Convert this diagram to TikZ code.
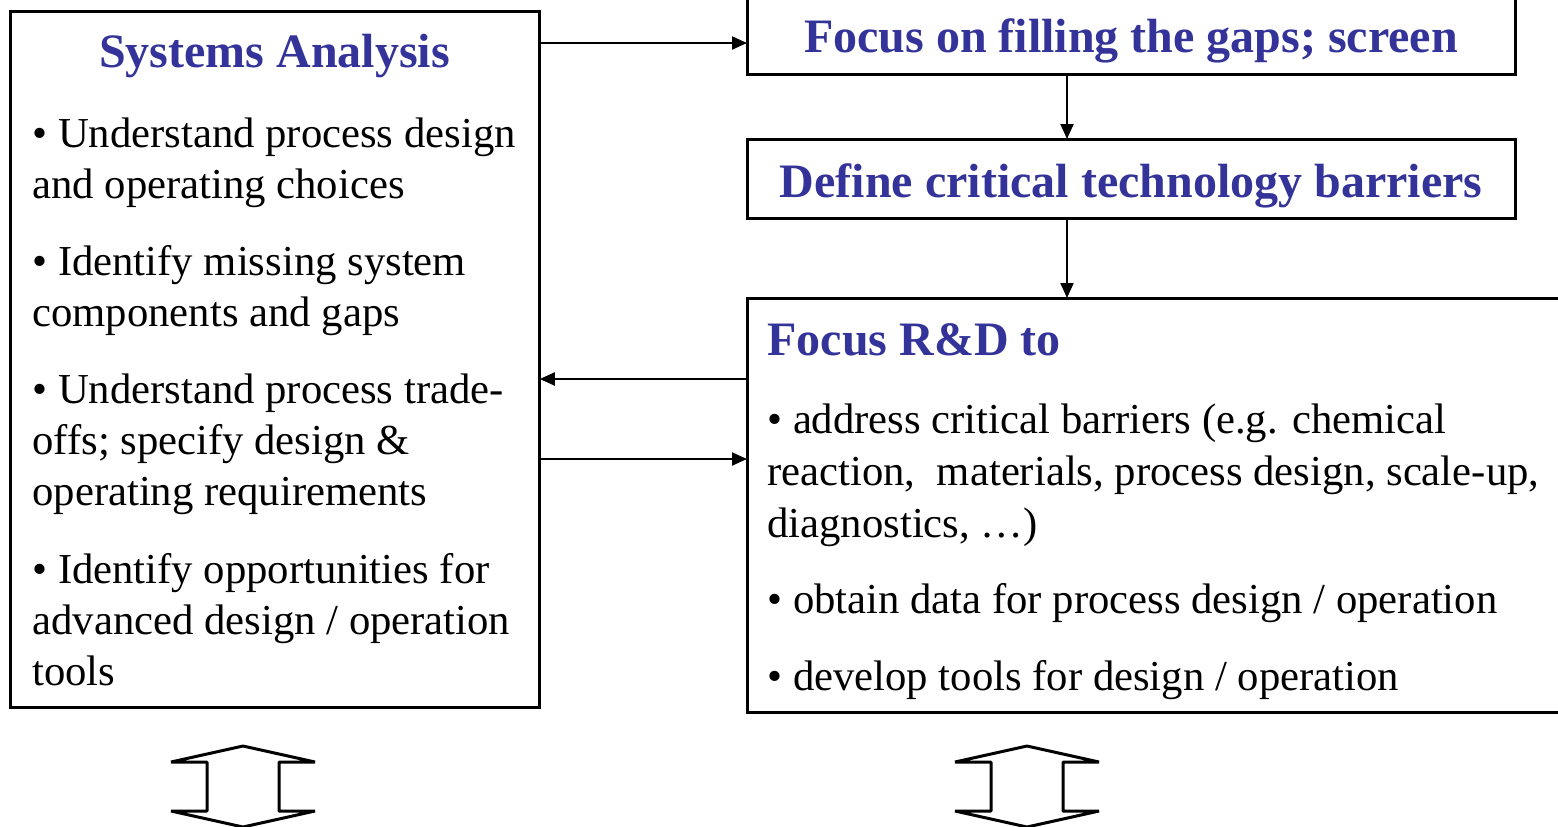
\documentclass[tikz,border=0pt]{standalone}
\usepackage{fontspec}
\setmainfont{Liberation Serif}
\usetikzlibrary{arrows.meta}
\definecolor{headblue}{HTML}{333399}
\begin{document}
\begin{tikzpicture}[x=0.5pt,y=-0.5pt,
  box/.style={draw,line width=1.5pt},
  link/.style={line width=1pt,-{Triangle[length=7.5pt,width=6.5pt]}},
  head/.style={font=\fontsize{24}{28}\selectfont\bfseries,text=headblue,inner sep=0pt},
  txt/.style={font=\fontsize{21.35}{25}\selectfont,inner sep=0pt,anchor=base west},
  dblarrow/.style={draw,line width=1.5pt,line join=bevel,fill=white}]
\useasboundingbox (0,0) rectangle (1558,826);

% boxes
\draw[box] (10,11) rectangle (539,707);
\node[inner sep=0pt,minimum width=264.5pt,minimum height=348pt,anchor=north west] (sa) at (10,11) {};
\draw[box] (747,-30) rectangle (1515,74);
\node[inner sep=0pt,minimum width=384pt,minimum height=52pt,anchor=south west] (fg) at (747,74) {};
\draw[box] (747,139) rectangle (1515,218);
\node[inner sep=0pt,minimum width=384pt,minimum height=39.5pt,anchor=north west] (dc) at (747,139) {};
\draw[box] (747,298) rectangle (1600,712);
\node[inner sep=0pt,minimum width=426.5pt,minimum height=207pt,anchor=north west] (rd) at (747,298) {};

% headings
\node[head,anchor=base] (t1) at (274.5,67) {Systems Analysis};
\node[head,anchor=base] (t2) at (1131,52) {Focus on filling the gaps; screen};
\node[head,anchor=base] (t3) at (1131,197) {Define critical technology barriers};
\node[head,anchor=base west] (t4) at (767,355) {Focus R\&D to};

% left column text
\node[txt] (a1) at (32,147) {• Understand process design};
\node[txt] (a2) at (32,198) {and operating choices};
\node[txt] (b1) at (32,275) {• Identify missing system};
\node[txt] (b2) at (32,326) {components and gaps};
\node[txt] (c1) at (32,403) {• Understand process trade-};
\node[txt] (c2) at (32,454) {offs; specify design \&};
\node[txt] (c3) at (32,505) {operating requirements};
\node[txt] (d1) at (32,583) {• Identify opportunities for};
\node[txt] (d2) at (32,634) {advanced design / operation};
\node[txt] (d3) at (32,685) {tools};

% right column text
\node[txt] (e1) at (767,433) {• address critical barriers (e.g. chemical};
\node[txt] (e2) at (767,485) {reaction,\ \ materials, process design, scale-up,};
\node[txt] (e3) at (767,537) {diagnostics, …)};
\node[txt] (f1) at (767,613) {• obtain data for process design / operation};
\node[txt] (g1) at (767,690) {• develop tools for design / operation};

% connectors
\draw[link] (sa.east |- 0,43) -- (fg.west |- 0,43);
\draw[link] (fg.south -| 1067,0) -- (dc.north -| 1067,0);
\draw[link] (dc.south -| 1067,0) -- (rd.north -| 1067,0);
\draw[link] (rd.west |- 0,379) -- (sa.east |- 0,379);
\draw[link] (sa.east |- 0,459) -- (rd.west |- 0,459);

% up-down block arrows below the boxes
\draw[dblarrow] (243,746) -- (315,762) -- (279,762) -- (279,811) -- (315,811)
  -- (243,827) -- (171,811) -- (207,811) -- (207,762) -- (171,762) -- cycle;
\draw[dblarrow] (1027,746) -- (1099,762) -- (1063,762) -- (1063,811) -- (1099,811)
  -- (1027,827) -- (955,811) -- (991,811) -- (991,762) -- (955,762) -- cycle;
\end{tikzpicture}
\end{document}
